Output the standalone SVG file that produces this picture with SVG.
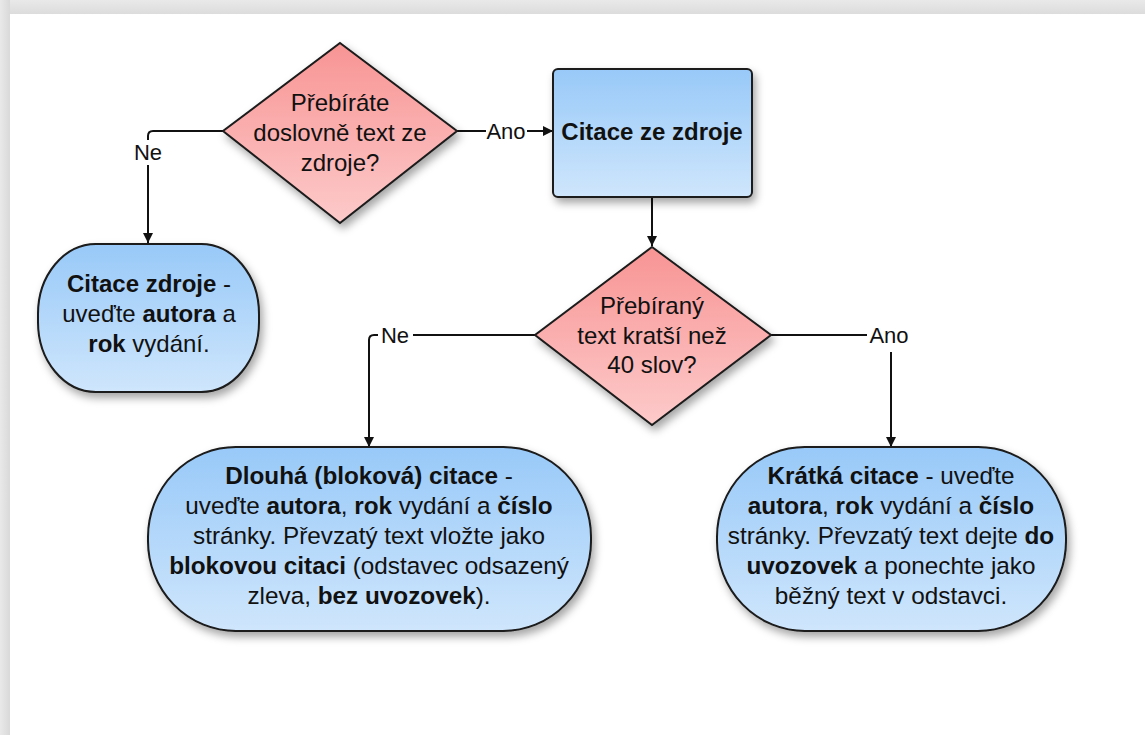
<svg xmlns="http://www.w3.org/2000/svg" width="1145" height="735" viewBox="0 0 1145 735">
<defs>
<linearGradient id="gRed" x1="0" y1="0" x2="0" y2="1">
<stop offset="0" stop-color="#f89494"/>
<stop offset="1" stop-color="#fdcaca"/>
</linearGradient>
<linearGradient id="gBlue" x1="0" y1="0" x2="0" y2="1">
<stop offset="0" stop-color="#98c9f8"/>
<stop offset="1" stop-color="#cfe6fc"/>
</linearGradient>
<linearGradient id="gTop" x1="0" y1="0" x2="0" y2="1">
<stop offset="0" stop-color="#e9e9e9"/>
<stop offset="1" stop-color="#dcdcdc"/>
</linearGradient>
<linearGradient id="gLeft" x1="0" y1="0" x2="1" y2="0">
<stop offset="0" stop-color="#e9e9e9"/>
<stop offset="1" stop-color="#d9d9d9"/>
</linearGradient>
<filter id="shadow" x="-20%" y="-20%" width="150%" height="150%">
<feDropShadow dx="3" dy="5" stdDeviation="4" flood-color="#000" flood-opacity="0.35"/>
</filter>
<marker id="arrow" viewBox="0 0 10 10" refX="10" refY="5" markerWidth="10" markerHeight="10" markerUnits="userSpaceOnUse" orient="auto">
<path d="M0,0 L10,5 L0,10 z" fill="#111"/>
</marker>
<style>
text { font-family: "Liberation Sans", Arial, sans-serif; font-size: 24px; fill: #111; text-anchor: middle; dominant-baseline: central; }
.b { font-weight: bold; }
.big { font-size: 24.3px; }
.lbl { font-size: 22px; }
.node { stroke: #1a1a1a; stroke-width: 2; filter: url(#shadow); }
.red { fill: url(#gRed); }
.blue { fill: url(#gBlue); }
.conn { fill: none; stroke: #111; stroke-width: 2; }
.lblbg { fill: #fff; }
</style>
</defs>

<rect x="0" y="0" width="1145" height="735" fill="#ffffff"/>
<rect x="0" y="0" width="1145" height="14" fill="url(#gTop)"/>
<rect x="0" y="0" width="10" height="735" fill="url(#gLeft)"/>

<g id="connectors">
<path class="conn" d="M457,131 H553" marker-end="url(#arrow)"/>
<rect class="lblbg" x="486" y="120" width="41" height="22"/>
<text class="lbl" x="506" y="131">Ano</text>

<path class="conn" d="M223,131 H153 Q148,131 148,136 V243" marker-end="url(#arrow)"/>
<rect class="lblbg" x="130" y="140" width="36" height="25"/>
<text class="lbl" x="148" y="152">Ne</text>

<path class="conn" d="M652,197 V246" marker-end="url(#arrow)"/>

<path class="conn" d="M535,335 H374 Q369,335 369,340 V447" marker-end="url(#arrow)"/>
<rect class="lblbg" x="378" y="324" width="35" height="22"/>
<text class="lbl" x="395" y="335">Ne</text>

<path class="conn" d="M771,335 H891 V447" marker-end="url(#arrow)"/>
<rect class="lblbg" x="867" y="322" width="46" height="30"/>
<text class="lbl" x="889" y="335">Ano</text>
</g>

<g id="q1">
<polygon class="node red" points="340,43 457,131 340,223 223,131"/>
<text x="340" y="102">Přebíráte</text>
<text x="340" y="132">doslovně text ze</text>
<text x="340" y="162">zdroje?</text>
</g>

<g id="citace-ze-zdroje">
<rect class="node blue" x="553" y="69" width="199" height="128" rx="5" ry="5"/>
<text class="b" x="652" y="131">Citace ze zdroje</text>
</g>

<g id="citace-zdroje">
<rect class="node blue" x="38" y="244" width="221" height="148" rx="58" ry="70"/>
<text x="149" y="283"><tspan class="b">Citace zdroje</tspan> -</text>
<text x="149" y="313">uveďte <tspan class="b">autora</tspan> a</text>
<text x="149" y="343"><tspan class="b">rok</tspan> vydání.</text>
</g>

<g id="q2">
<polygon class="node red" points="652,247 771,335 652,425 535,335"/>
<text x="652" y="305">Přebíraný</text>
<text x="652" y="335">text kratší než</text>
<text x="652" y="364">40 slov?</text>
</g>

<g id="dlouha-citace">
<rect class="node blue" x="148" y="447" width="443" height="184" rx="88" ry="90"/>
<text class="big" x="369" y="475"><tspan class="b">Dlouhá (bloková) citace</tspan> -</text>
<text class="big" x="369" y="505">uveďte <tspan class="b">autora</tspan>, <tspan class="b">rok</tspan> vydání a <tspan class="b">číslo</tspan></text>
<text class="big" x="369" y="535">stránky. Převzatý text vložte jako</text>
<text class="big" x="369" y="565"><tspan class="b">blokovou citaci</tspan> (odstavec odsazený</text>
<text class="big" x="369" y="595">zleva, <tspan class="b">bez uvozovek</tspan>).</text>
</g>

<g id="kratka-citace">
<rect class="node blue" x="717" y="447" width="349" height="184" rx="88" ry="90"/>
<text class="big" x="891" y="475"><tspan class="b">Krátká citace</tspan> - uveďte</text>
<text class="big" x="891" y="505"><tspan class="b">autora</tspan>, <tspan class="b">rok</tspan> vydání a <tspan class="b">číslo</tspan></text>
<text class="big" x="891" y="535">stránky. Převzatý text dejte <tspan class="b">do</tspan></text>
<text class="big" x="891" y="565"><tspan class="b">uvozovek</tspan> a ponechte jako</text>
<text class="big" x="891" y="595">běžný text v odstavci.</text>
</g>
</svg>
